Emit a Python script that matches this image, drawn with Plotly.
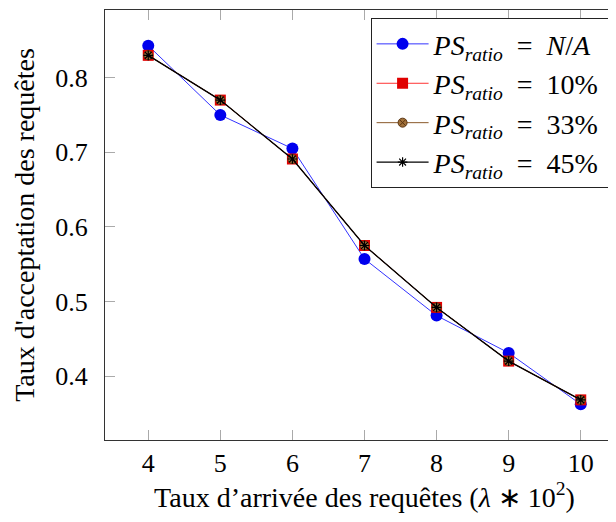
import plotly.graph_objects as go

# arrival rate (lambda * 10^2)
x_vals = [4, 5, 6, 7, 8, 9, 10]

ps_na = [0.843, 0.750, 0.705, 0.557, 0.481, 0.431, 0.362]
ps_10 = [0.830, 0.770, 0.691, 0.575, 0.492, 0.420, 0.368]
ps_33 = [0.830, 0.770, 0.691, 0.575, 0.492, 0.420, 0.368]
ps_45 = [0.830, 0.770, 0.691, 0.575, 0.492, 0.420, 0.368]

y_ticks = [0.4, 0.5, 0.6, 0.7, 0.8]

def ps_label(v):
    return "<i>PS</i><sub><i>ratio</i></sub> &nbsp;= &nbsp;" + v + "&nbsp;"

fig = go.Figure()
fig.add_trace(go.Scatter(x=x_vals, y=ps_na, mode="lines+markers", name=ps_label("<i>N</i>/<i>A</i>"),
                         line=dict(color="#3333ff", width=1),
                         marker=dict(symbol="circle", size=12, color="#0000ee", line=dict(width=0))))
fig.add_trace(go.Scatter(x=x_vals, y=ps_10, mode="lines+markers", name=ps_label("10%"),
                         line=dict(color="#ff3333", width=1),
                         marker=dict(symbol="square", size=11, color="#e00000", line=dict(width=0))))
fig.add_trace(go.Scatter(x=x_vals, y=ps_33, mode="lines+markers", name=ps_label("33%"),
                         line=dict(color="#8a5a2b", width=1),
                         marker=dict(symbol="circle-x", size=9, color="#a0703a",
                                     line=dict(color="#5a3410", width=1))))
fig.add_trace(go.Scatter(x=x_vals, y=ps_45, mode="lines+markers", name=ps_label("45%"),
                         line=dict(color="#000000", width=1.3),
                         marker=dict(symbol="asterisk-open", size=8, line=dict(color="#000000", width=1.2))))

serif = "Liberation Serif"

# the page body adds an 8px offset, so margins are reduced by 8
fig.update_layout(
    width=616, height=522,
    margin=dict(l=97, r=0, t=2, b=90, autoexpand=False),
    plot_bgcolor="white", paper_bgcolor="white",
    font=dict(family=serif, size=22, color="black"),
    legend=dict(x=0.978, y=0.981, xanchor="right", yanchor="top",
                bgcolor="white", bordercolor="#222222", borderwidth=1,
                font=dict(family=serif, size=28, color="black"), itemwidth=52, tracegroupgap=0),
    showlegend=True,
)
fig.update_xaxes(
    range=[3.4, 10.6], tickvals=x_vals, showgrid=False, zeroline=False, automargin=False,
    showline=True, linecolor="#333333", linewidth=1, mirror="ticks",
    ticks="inside", ticklen=10, tickcolor="#aaaaaa", tickwidth=1,
    ticklabelstandoff=0, tickfont=dict(family=serif, size=26, color="black"),
    title=dict(text="Taux d’arrivée des requêtes (<i>λ</i> ∗ 10<sup>2</sup>)", standoff=8,
               font=dict(family=serif, size=28, color="black")),
)
fig.update_yaxes(
    range=[0.3142, 0.8908], tickvals=y_ticks, tickformat=".1f", showgrid=False, zeroline=False,
    automargin=False,
    showline=True, linecolor="#333333", linewidth=1, mirror=False,
    ticks="inside", ticklen=10, tickcolor="#aaaaaa", tickwidth=1,
    ticklabelstandoff=11, tickfont=dict(family=serif, size=26, color="black"),
    title=dict(text="Taux d'acceptation des requêtes", standoff=12,
               font=dict(family=serif, size=28, color="black")),
)

fig.write_html("out.html")
